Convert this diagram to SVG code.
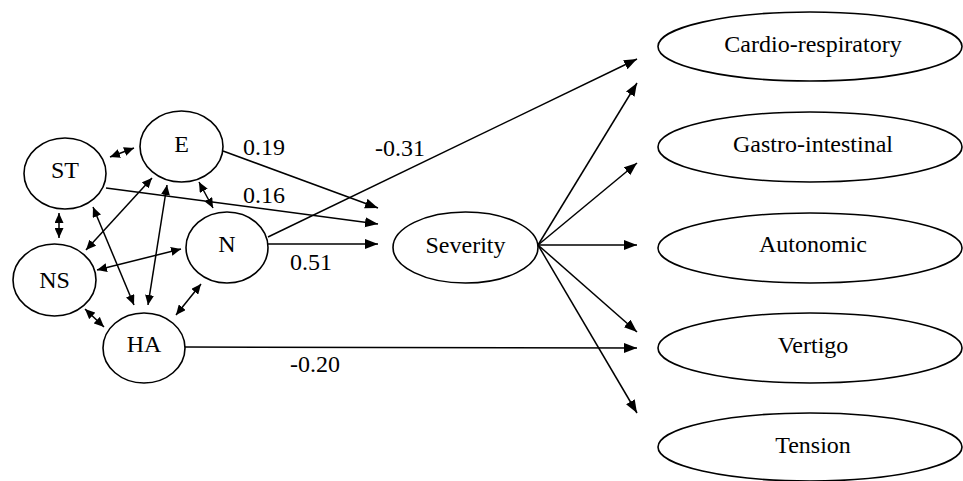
<svg xmlns="http://www.w3.org/2000/svg" width="963" height="481" viewBox="0 0 963 481">
<style>
  .node ellipse { fill: #fff; stroke: #000; stroke-width: 1.6; }
  .txt text { font-family: "Liberation Serif", "DejaVu Serif", serif; font-size: 24px; fill: #000; }
  .lbl { text-anchor: middle; }
  .conn line { stroke: #000; stroke-width: 1.5; }
  .big { marker-end: url(#ah); }
  .bi { marker-start: url(#sh); marker-end: url(#sh); }
</style>
<defs>
  <marker id="ah" markerUnits="userSpaceOnUse" markerWidth="14" markerHeight="11" refX="13" refY="5" orient="auto">
    <path d="M0,0 L13,5 L0,10 z" fill="#000"/>
  </marker>
  <marker id="sh" markerUnits="userSpaceOnUse" markerWidth="11" markerHeight="9" refX="10" refY="4.5" orient="auto-start-reverse">
    <path d="M0,0 L10,4.5 L0,9 z" fill="#000"/>
  </marker>
</defs>

<g id="connectors" class="conn">
  <line class="big" x1="223" y1="151" x2="378" y2="208"/>
  <line class="big" x1="106" y1="188" x2="378" y2="224"/>
  <line class="big" x1="268" y1="244" x2="378" y2="244"/>
  <line class="big" x1="268" y1="237" x2="637" y2="59"/>
  <line class="big" x1="185" y1="347" x2="637" y2="348"/>
  <line class="big" x1="538" y1="245" x2="637" y2="83"/>
  <line class="big" x1="538" y1="245" x2="637" y2="163"/>
  <line class="big" x1="538" y1="245" x2="637" y2="245"/>
  <line class="big" x1="538" y1="245" x2="637" y2="332"/>
  <line class="big" x1="538" y1="245" x2="637" y2="413"/>
  <line class="bi" x1="110" y1="157" x2="134" y2="148"/>
  <line class="bi" x1="59" y1="213" x2="59" y2="238"/>
  <line class="bi" x1="199" y1="182" x2="213" y2="208"/>
  <line class="bi" x1="86" y1="250" x2="152" y2="178"/>
  <line class="bi" x1="97" y1="270" x2="181" y2="249"/>
  <line class="bi" x1="93" y1="207" x2="134" y2="305"/>
  <line class="bi" x1="167" y1="185" x2="148" y2="305"/>
  <line class="bi" x1="85" y1="309" x2="104" y2="327"/>
  <line class="bi" x1="201" y1="284" x2="176" y2="315"/>
</g>

<g class="txt">
<g id="node-ST" class="node"><ellipse cx="65" cy="173.5" rx="41" ry="35.5"/><text class="lbl" x="65" y="178">ST</text></g>
<g id="node-E" class="node"><ellipse cx="181.5" cy="146.5" rx="41.5" ry="35.5"/><text class="lbl" x="181.5" y="152">E</text></g>
<g id="node-N" class="node"><ellipse cx="227" cy="247.5" rx="41" ry="35.5"/><text class="lbl" x="227" y="252">N</text></g>
<g id="node-NS" class="node"><ellipse cx="54.5" cy="280" rx="41.5" ry="36"/><text class="lbl" x="54.5" y="288">NS</text></g>
<g id="node-HA" class="node"><ellipse cx="144" cy="348" rx="41" ry="35"/><text class="lbl" x="144" y="352">HA</text></g>
<g id="node-Severity" class="node"><ellipse cx="465.5" cy="247.5" rx="72.5" ry="35.5"/><text class="lbl" x="465.5" y="253">Severity</text></g>
<g id="node-Cardio" class="node"><ellipse cx="810" cy="46.5" rx="152" ry="34.5"/><text class="lbl" x="813" y="52">Cardio-respiratory</text></g>
<g id="node-Gastro" class="node"><ellipse cx="810" cy="147" rx="152" ry="35"/><text class="lbl" x="813" y="152">Gastro-intestinal</text></g>
<g id="node-Autonomic" class="node"><ellipse cx="810" cy="248" rx="152" ry="35"/><text class="lbl" x="813" y="252">Autonomic</text></g>
<g id="node-Vertigo" class="node"><ellipse cx="810" cy="348" rx="152" ry="35"/><text class="lbl" x="813" y="353">Vertigo</text></g>
<g id="node-Tension" class="node"><ellipse cx="810" cy="447" rx="152" ry="34"/><text class="lbl" x="813" y="453">Tension</text></g>

<g id="edge-labels">
  <text x="243" y="155">0.19</text>
  <text x="243" y="203">0.16</text>
  <text x="375" y="156">-0.31</text>
  <text x="290" y="270">0.51</text>
  <text x="290" y="372">-0.20</text>
</g>
</g>
</svg>
